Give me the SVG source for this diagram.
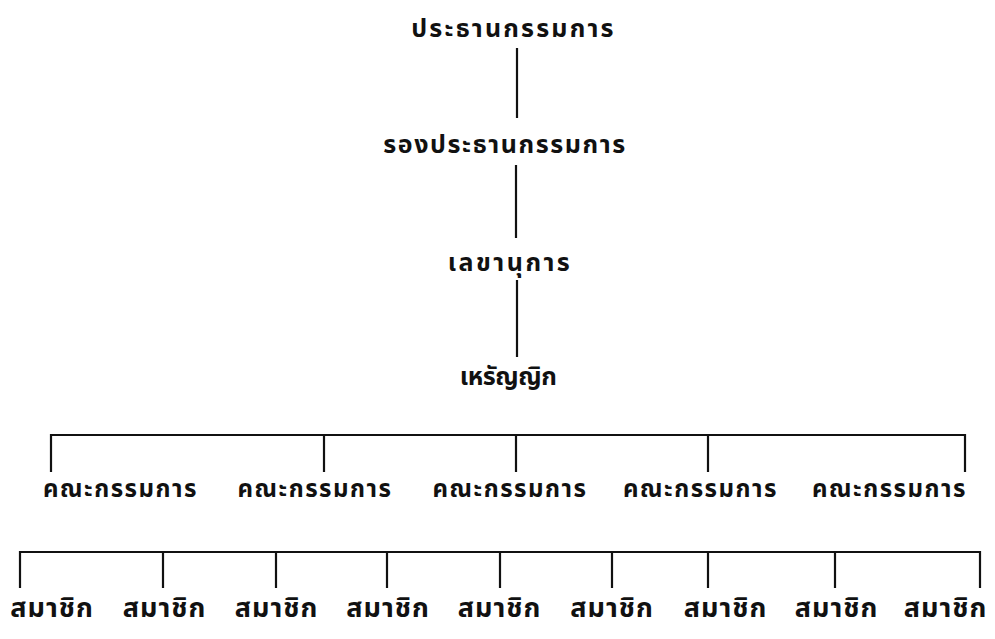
<svg xmlns="http://www.w3.org/2000/svg" width="995" height="639" viewBox="0 0 995 639">
<style>
text{font-family:"Noto Sans Thai","Noto Sans","DejaVu Sans",sans-serif;font-weight:bold;fill:#111;text-anchor:middle}
.t{font-size:25px}
.c{font-size:24px;letter-spacing:1.5px}
.m{font-size:27px;letter-spacing:1px}
line{stroke:#111;stroke-width:2.2}
</style>
<rect width="995" height="639" fill="#fff"/>
<g id="connectors">
<line x1="517" y1="48" x2="517" y2="118"/>
<line x1="516" y1="165" x2="516" y2="238"/>
<line x1="517" y1="280" x2="517" y2="357"/>
<line x1="50" y1="435" x2="966" y2="435"/>
<line x1="51" y1="434" x2="51" y2="472"/>
<line x1="324" y1="434" x2="324" y2="472"/>
<line x1="516" y1="434" x2="516" y2="472"/>
<line x1="708" y1="434" x2="708" y2="472"/>
<line x1="965" y1="434" x2="965" y2="472"/>
<line x1="19" y1="552" x2="981" y2="552"/>
<line x1="20" y1="551" x2="20" y2="588"/>
<line x1="163" y1="551" x2="163" y2="588"/>
<line x1="276" y1="551" x2="276" y2="588"/>
<line x1="387" y1="551" x2="387" y2="588"/>
<line x1="500" y1="551" x2="500" y2="588"/>
<line x1="612" y1="551" x2="612" y2="588"/>
<line x1="708" y1="551" x2="708" y2="588"/>
<line x1="835" y1="551" x2="835" y2="588"/>
<line x1="980" y1="551" x2="980" y2="588"/>
</g>
<g id="chairman"><text class="t" x="513.5" y="37" style="letter-spacing:2.2px">ประธานกรรมการ</text></g>
<g id="vice-chairman"><text class="t" x="505" y="153" style="letter-spacing:1.6px">รองประธานกรรมการ</text></g>
<g id="secretary"><text class="t" x="510" y="271" style="letter-spacing:2.5px">เลขานุการ</text></g>
<g id="treasurer"><text class="t" x="508" y="385" style="letter-spacing:-0.5px">เหรัญญิก</text></g>
<g id="committee-1"><text class="c" x="120.5" y="497">คณะกรรมการ</text></g>
<g id="committee-2"><text class="c" x="315" y="497">คณะกรรมการ</text></g>
<g id="committee-3"><text class="c" x="510" y="497">คณะกรรมการ</text></g>
<g id="committee-4"><text class="c" x="700.5" y="497">คณะกรรมการ</text></g>
<g id="committee-5"><text class="c" x="889.5" y="497">คณะกรรมการ</text></g>
<g id="member-1"><text class="m" x="52" y="617">สมาชิก</text></g>
<g id="member-2"><text class="m" x="164.5" y="617">สมาชิก</text></g>
<g id="member-3"><text class="m" x="276.5" y="617">สมาชิก</text></g>
<g id="member-4"><text class="m" x="388" y="617">สมาชิก</text></g>
<g id="member-5"><text class="m" x="499.5" y="617">สมาชิก</text></g>
<g id="member-6"><text class="m" x="612" y="617">สมาชิก</text></g>
<g id="member-7"><text class="m" x="725.5" y="617">สมาชิก</text></g>
<g id="member-8"><text class="m" x="836.5" y="617">สมาชิก</text></g>
<g id="member-9"><text class="m" x="945.5" y="617">สมาชิก</text></g>
</svg>
